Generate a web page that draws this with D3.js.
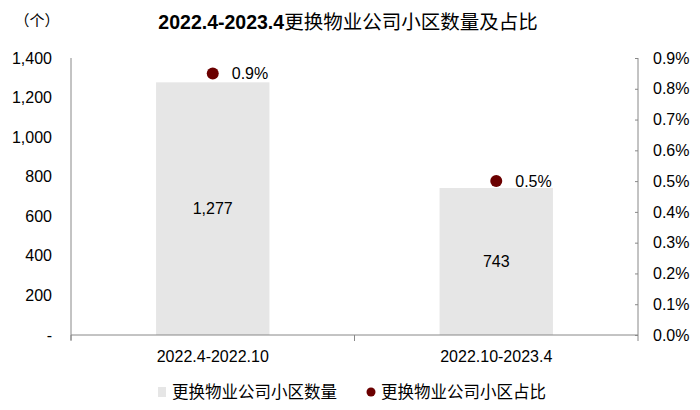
<!DOCTYPE html>
<html>
<head>
<meta charset="utf-8">
<script src="https://cdn.jsdelivr.net/npm/d3@7"></script>
<style>
  body { margin: 0; background: #fff; }
  text { font-family: "Liberation Sans", Arial, "Noto Sans CJK SC", sans-serif; fill: #000; }
</style>
</head>
<body>
<svg id="chart" width="700" height="410"></svg>
<script>
// chart data
const categories = ["2022.4-2022.10", "2022.10-2023.4"];
const counts = [1277, 743];
const shares = [0.0085, 0.005];
const shareLabels = ["0.9%", "0.5%"];
const countTicks = [0, 200, 400, 600, 800, 1000, 1200, 1400];
const shareTicks = [0, 0.001, 0.002, 0.003, 0.004, 0.005, 0.006, 0.007, 0.008, 0.009];

const layout = {width: 700, height: 410, left: 71, right: 638, top: 58, bottom: 335};
const fontSize = 16;

const svg = d3.select("#chart");

const xScale = d3.scaleBand()
  .domain(categories)
  .range([layout.left, layout.right])
  .paddingInner(0)
  .paddingOuter(0);

const yLeft = d3.scaleLinear()
  .domain([0, 1400])
  .range([layout.bottom, layout.top]);

const yRight = d3.scaleLinear()
  .domain([0, 0.009])
  .range([layout.bottom, layout.top]);

const barWidth = xScale.bandwidth() * 0.4;

// bars
svg.append("g")
  .selectAll("rect")
  .data(counts)
  .join("rect")
  .attr("x", (d, i) => xScale(categories[i]) + (xScale.bandwidth() - barWidth) / 2)
  .attr("y", d => yLeft(d))
  .attr("width", barWidth)
  .attr("height", d => yLeft(0) - yLeft(d))
  .attr("fill", "#e6e6e6");

// bar value labels
svg.append("g")
  .selectAll("text")
  .data(counts)
  .join("text")
  .attr("x", (d, i) => xScale(categories[i]) + xScale.bandwidth() / 2)
  .attr("y", d => (yLeft(d) + yLeft(0)) / 2)
  .attr("dy", "0.35em")
  .attr("text-anchor", "middle")
  .attr("font-size", fontSize)
  .text(d => d3.format(",")(d));

// left axis
const leftAxis = svg.append("g")
  .attr("transform", `translate(${layout.left},0)`)
  .call(d3.axisLeft(yLeft).tickValues(countTicks).tickSize(0).tickPadding(19)
    .tickFormat(d => d === 0 ? "-" : d3.format(",")(d)));
leftAxis.select(".domain").attr("stroke", "#888").attr("d", `M0,${layout.top}V${layout.bottom + 5}`);
leftAxis.selectAll("text").attr("font-size", fontSize).attr("font-family", null);

// right axis
const rightAxis = svg.append("g")
  .attr("transform", `translate(${layout.right},0)`)
  .call(d3.axisRight(yRight).tickValues(shareTicks).tickSize(-3).tickPadding(15)
    .tickFormat(d3.format(".1%")));
rightAxis.select(".domain").attr("stroke", "#888").attr("d", `M0,${layout.top}V${layout.bottom}`);
rightAxis.selectAll("line").attr("stroke", "#888");
rightAxis.selectAll("text").attr("font-size", fontSize).attr("font-family", null);

// x axis
const xTicks = d3.scaleLinear().domain([0, categories.length]).range([layout.left, layout.right]);
const xAxis = svg.append("g")
  .attr("transform", `translate(0,${layout.bottom})`)
  .call(d3.axisBottom(xScale).tickSize(0).tickPadding(16));
xAxis.select(".domain").attr("stroke", "#888").attr("d", `M${layout.left},0H${layout.right}`);
xAxis.selectAll("text").attr("font-size", fontSize).attr("font-family", null);
xAxis.selectAll(".sep")
  .data(d3.range(categories.length + 1))
  .join("line")
  .attr("class", "sep")
  .attr("x1", d => xTicks(d)).attr("x2", d => xTicks(d))
  .attr("y1", 0).attr("y2", 6)
  .attr("stroke", "#888");

// share dots
svg.append("g")
  .selectAll("circle")
  .data(shares)
  .join("circle")
  .attr("cx", (d, i) => xScale(categories[i]) + xScale.bandwidth() / 2)
  .attr("cy", d => yRight(d))
  .attr("r", 6)
  .attr("fill", "#6b0000");

svg.append("g")
  .selectAll("text")
  .data(shares)
  .join("text")
  .attr("x", (d, i) => xScale(categories[i]) + xScale.bandwidth() / 2 + 19)
  .attr("y", d => yRight(d))
  .attr("dy", "0.35em")
  .attr("font-size", fontSize)
  .text((d, i) => shareLabels[i]);

// title and unit
const title = svg.append("text")
  .attr("x", 348).attr("y", 29)
  .attr("text-anchor", "middle")
  .attr("font-size", 19.5);
title.append("tspan").attr("font-weight", "bold").text("2022.4-2023.4");
title.append("tspan").text("更换物业公司小区数量及占比");

svg.append("text")
  .attr("x", 37).attr("y", 26)
  .attr("text-anchor", "middle")
  .attr("font-size", 15)
  .text("（个）");

// legend
const legend = svg.append("g").attr("transform", "translate(0,392)");
legend.append("rect").attr("x", 158).attr("y", -5).attr("width", 8).attr("height", 10).attr("fill", "#e6e6e6");
legend.append("text").attr("x", 172).attr("y", 0).attr("dy", "0.35em").attr("font-size", 16.5)
  .text("更换物业公司小区数量");
legend.append("circle").attr("cx", 371).attr("cy", 0).attr("r", 4.5).attr("fill", "#6b0000");
legend.append("text").attr("x", 381).attr("y", 0).attr("dy", "0.35em").attr("font-size", 16.5)
  .text("更换物业公司小区占比");
</script>
</body>
</html>
